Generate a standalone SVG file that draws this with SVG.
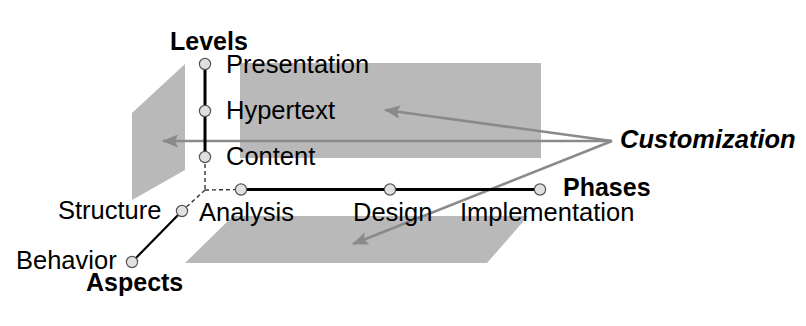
<svg xmlns="http://www.w3.org/2000/svg" width="806" height="326" viewBox="0 0 806 326">
  <style>
    .plane { fill: #b9b9b9; }
    .axis { stroke: #000; stroke-width: 3; fill: none; stroke-linecap: round; }
    .axis-thin { stroke: #000; stroke-width: 2.2; fill: none; }
    .dash { stroke: #333; stroke-width: 1.4; stroke-dasharray: 4 3; fill: none; }
    .pt { fill: #e0e0e0; stroke: #555; stroke-width: 1.2; }
    .ptr { stroke: #8a8a8a; stroke-width: 2.6; fill: none; marker-end: url(#head); }
    text { font-family: "Liberation Sans", Arial, Helvetica, sans-serif; font-size: 25.5px; fill: #000; }
    .title { font-weight: bold; font-size: 25px; }
    .custom { font-weight: bold; font-style: italic; font-size: 25.5px; }
  </style>
  <defs>
    <marker id="head" markerUnits="userSpaceOnUse" markerWidth="18" markerHeight="14" refX="15" refY="6.5" orient="auto">
      <path d="M0,0 L16,6.5 L0,13 L3,6.5 Z" fill="#8a8a8a"/>
    </marker>
    <filter id="soft" x="-1%" y="-200%" width="102%" height="500%">
      <feGaussianBlur stdDeviation="0.9"/>
    </filter>
  </defs>

  <rect width="806" height="326" fill="#fff"/>

  <!-- header rule -->
  <line x1="7" y1="13" x2="806" y2="13" stroke="#c4c4c4" stroke-width="2.4" filter="url(#soft)"/>

  <!-- customization planes -->
  <g id="plane-levels">
    <polygon class="plane" points="132,113 185,64 185,170 132,200"/>
  </g>
  <g id="plane-aspects">
    <rect class="plane" x="240" y="63" width="301" height="95"/>
  </g>
  <g id="plane-phases">
    <polygon class="plane" points="233,216 528,216 487,263 185,263"/>
  </g>

  <!-- connectors: customization pointers and the three axes -->
  <g id="connectors">
    <line class="ptr" x1="612" y1="141" x2="385" y2="110"/>
    <line class="ptr" x1="612" y1="141" x2="163" y2="141"/>
    <line class="ptr" x1="612" y1="141" x2="353" y2="244"/>

    <line class="axis" x1="205" y1="64" x2="205" y2="157"/>
    <line class="dash" x1="205" y1="157" x2="205" y2="190"/>
    <line class="axis" x1="240" y1="189.5" x2="540" y2="189.5"/>
    <line class="dash" x1="205" y1="190" x2="240" y2="189.5"/>
    <line class="dash" x1="205" y1="190" x2="182" y2="211"/>
    <line class="axis-thin" x1="182" y1="211" x2="132" y2="262"/>
  </g>

  <!-- Levels axis -->
  <g id="levels">
    <text class="title" x="170" y="50">Levels</text>
  </g>
  <g id="level-presentation">
    <circle class="pt" cx="205" cy="64" r="5.6"/>
    <text x="226" y="73">Presentation</text>
  </g>
  <g id="level-hypertext">
    <circle class="pt" cx="205" cy="111" r="5.6"/>
    <text x="226" y="119">Hypertext</text>
  </g>
  <g id="level-content">
    <circle class="pt" cx="205" cy="157" r="5.6"/>
    <text x="226" y="165">Content</text>
  </g>

  <!-- Phases axis -->
  <g id="phase-analysis">
    <circle class="pt" cx="241" cy="189.5" r="5.6"/>
    <text x="199" y="221">Analysis</text>
  </g>
  <g id="phase-design">
    <circle class="pt" cx="390" cy="189.5" r="5.6"/>
    <text x="353" y="221">Design</text>
  </g>
  <g id="phase-implementation">
    <circle class="pt" cx="540" cy="189.5" r="5.6"/>
    <text x="460" y="221">Implementation</text>
  </g>
  <g id="phases">
    <text class="title" x="563" y="196">Phases</text>
  </g>

  <!-- Aspects axis -->
  <g id="aspect-structure">
    <circle class="pt" cx="182" cy="211" r="5.6"/>
    <text x="58" y="219">Structure</text>
  </g>
  <g id="aspect-behavior">
    <circle class="pt" cx="132" cy="262" r="5.6"/>
    <text x="16" y="269">Behavior</text>
  </g>
  <g id="aspects">
    <text class="title" x="86" y="291">Aspects</text>
  </g>

  <g id="customization">
    <text class="custom" x="620" y="148">Customization</text>
  </g>
</svg>
